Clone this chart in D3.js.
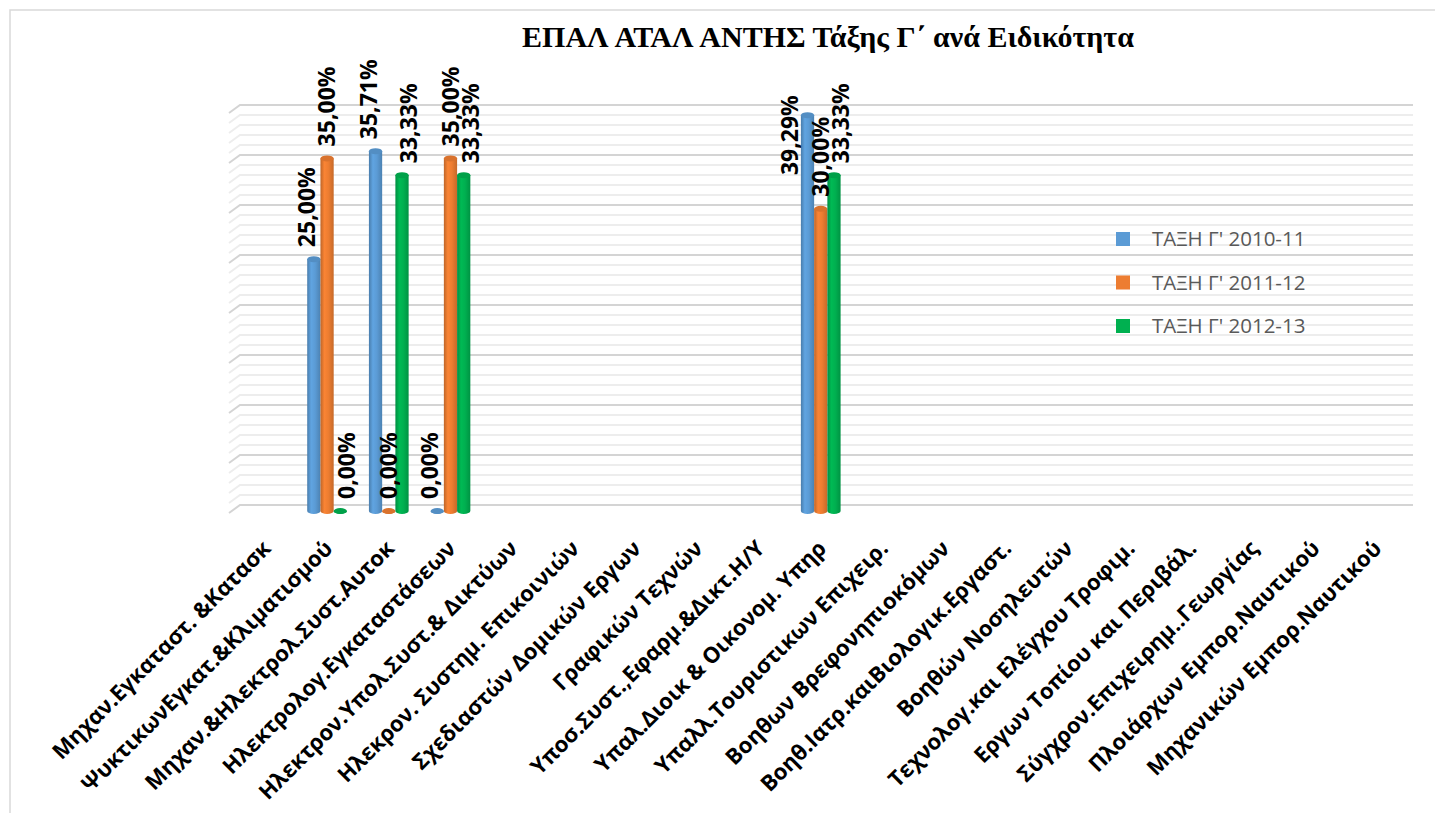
<!DOCTYPE html>
<html>
<head>
<meta charset="utf-8">
<script src="https://cdn.jsdelivr.net/npm/d3@7"></script>
<style>
  html, body { margin: 0; padding: 0; background: #fff; }
  svg { display: block; }
</style>
</head>
<body>
<svg id="chart" width="1435" height="813"></svg>
<script>
// ---------------- data ----------------
const title = "ΕΠΑΛ ΑΤΑΛ ΑΝΤΗΣ Τάξης Γ΄ ανά Ειδικότητα";
const categories = [
  "Μηχαν.Εγκαταστ. &Κατασκ",
  "ΨυκτικωνΕγκατ.&Κλιματισμού",
  "Μηχαν.&Ηλεκτρολ.Συστ.Αυτοκ",
  "Ηλεκτρολογ.Εγκαταστάσεων",
  "Ηλεκτρον.Υπολ.Συστ.& Δικτύων",
  "Ηλεκρον. Συστημ. Επικοινιών",
  "Σχεδιαστών Δομικών Εργων",
  "Γραφικών Τεχνών",
  "Υποσ.Συστ.,Εφαρμ.&Δικτ.Η/Υ",
  "Υπαλ.Διοικ & Οικονομ. Υπηρ",
  "Υπαλλ.Τουριστικων Επιχειρ.",
  "Βοηθων Βρεφονηπιοκόμων",
  "Βοηθ.Ιατρ.καιΒιολογικ.Εργαστ.",
  "Βοηθών Νοσηλευτών",
  "Τεχνολογ.και Ελέγχου Τροφιμ.",
  "Εργων Τοπίου και Περιβάλ.",
  "Σύγχρον.Επιχειρημ..Γεωργίας",
  "Πλοιάρχων Εμπορ.Ναυτικού",
  "Μηχανικών Εμπορ.Ναυτικού"
];
const seriesNames = ["ΤΑΞΗ Γ' 2010-11", "ΤΑΞΗ Γ' 2011-12", "ΤΑΞΗ Γ' 2012-13"];
// percentages; null = no value
const values2010 = [null, 25.00, 35.71, 0.00, null, null, null, null, null, 39.29, null, null, null, null, null, null, null, null, null];
const values2011 = [null, 35.00, 0.00, 35.00, null, null, null, null, null, 30.00, null, null, null, null, null, null, null, null, null];
const values2012 = [null, 0.00, 33.33, 33.33, null, null, null, null, null, 33.33, null, null, null, null, null, null, null, null, null];
const yMax = 40;
const majorStep = 5;
const minorStep = 1;

// ---------------- drawing ----------------
const series = [values2010, values2011, values2012];
const colors = ["#5b9bd5", "#ed7d31", "#00b050"];
const svg = d3.select("#chart");
const defs = svg.append("defs");

// outer chart border
svg.append("rect").attr("x", 10).attr("y", 10).attr("width", 1440).attr("height", 820)
  .attr("fill", "none").attr("stroke", "#d9d9d9").attr("stroke-width", 1.5);

// title
svg.append("text").attr("x", 828).attr("y", 47).attr("text-anchor", "middle")
  .attr("font-family", "'Liberation Serif', 'Times New Roman', serif")
  .attr("font-weight", "bold").attr("font-size", 30).attr("fill", "#000")
  .text(title);

// scales
const x = d3.scaleBand().domain(categories).range([234.5, 1407]).paddingInner(0).paddingOuter(0);
const xs = d3.scaleBand().domain(d3.range(series.length)).range([11, x.bandwidth() - 11]).padding(0);
const yFront = d3.scaleLinear().domain([0, yMax]).range([511, 108]);
const yBack = d3.scaleLinear().domain([0, yMax]).range([505, 105]);
const wallX0 = 240, wallX1 = 1413, sideDx = -11, sideDy = 8;

// gridlines (back wall + side wall)
const minorTicks = d3.range(0, yMax + 0.001, minorStep);
const grid = svg.append("g");
minorTicks.forEach(t => {
  const isMajor = Math.abs(t / majorStep - Math.round(t / majorStep)) < 1e-6;
  const yy = yBack(t);
  const col = isMajor ? "#d4d4d4" : "#ededed";
  grid.append("path")
    .attr("d", `M${wallX0 + sideDx},${yy + sideDy} L${wallX0},${yy} L${wallX1},${yy}`)
    .attr("fill", "none").attr("stroke", col).attr("stroke-width", 2);
});

// cylinder gradients
colors.forEach((c, i) => {
  const g = defs.append("linearGradient").attr("id", "cyl" + i).attr("x1", "0").attr("x2", "1").attr("y1", "0").attr("y2", "0");
  const dark = d3.color(c).darker(0.6), light = d3.color(c).brighter(0.15);
  g.append("stop").attr("offset", "0%").attr("stop-color", dark);
  g.append("stop").attr("offset", "30%").attr("stop-color", light);
  g.append("stop").attr("offset", "60%").attr("stop-color", c);
  g.append("stop").attr("offset", "100%").attr("stop-color", d3.color(c).darker(0.5));
});

const ry = 3;
const bars = svg.append("g");
const labels = svg.append("g");
const labelOffsets = [-7, 0, 7];
const labelFont = 23;
const labelTopLimit = 50;
categories.forEach((cat, ci) => {
  series.forEach((vals, si) => {
    const v = vals[ci];
    if (v === null || v === undefined) return;
    const bx = x(cat) + xs(si), bw = xs.bandwidth();
    const yt = yFront(v), yb = yFront(0);
    const g = bars.append("g");
    g.append("path")
      .attr("d", `M${bx},${yt} L${bx},${yb} A${bw/2},${ry} 0 0 0 ${bx + bw},${yb} L${bx + bw},${yt} Z`)
      .attr("fill", `url(#cyl${si})`);
    g.append("ellipse").attr("cx", bx + bw / 2).attr("cy", yt).attr("rx", bw / 2).attr("ry", ry)
      .attr("fill", d3.color(colors[si]).darker(0.25));
    const txt = v.toFixed(2).replace(".", ",") + "%";
    const t = labels.append("text")
      .attr("font-family", "'Open Sans', sans-serif").attr("font-weight", "bold")
      .attr("font-size", labelFont).attr("fill", "#000").attr("dy", "0.35em")
      .text(txt);
    const len = t.node().getComputedTextLength();
    let lx = bx + bw / 2 + labelOffsets[si];
    let ly = yt - 12;
    let anchor = "start";
    if (ly - len < labelTopLimit) {
      // not enough room above: place beside the bar (left side)
      lx = bx - 11;
      ly = yt + 20;
      anchor = "middle";
    }
    t.attr("text-anchor", anchor).attr("transform", `translate(${lx},${ly}) rotate(-90)`);
  });
});

// category labels
const catG = svg.append("g");
categories.forEach(cat => {
  const cx = x(cat) + x.bandwidth() / 2 - 4;
  catG.append("text")
    .attr("transform", `translate(${cx},${539}) rotate(-45)`)
    .attr("text-anchor", "end").attr("dy", "0.7em")
    .attr("font-family", "'Open Sans', sans-serif").attr("font-weight", "bold")
    .attr("font-size", 22).attr("fill", "#000")
    .text(cat);
});

// legend
const lg = svg.append("g");
seriesNames.forEach((name, i) => {
  const yy = 239 + i * 43.5;
  lg.append("rect").attr("x", 1116).attr("y", yy - 7).attr("width", 14).attr("height", 14).attr("fill", colors[i]);
  lg.append("text").attr("x", 1152).attr("y", yy).attr("dy", "0.35em")
    .attr("font-family", "'Open Sans', sans-serif").attr("font-size", 20.5).attr("fill", "#595959")
    .text(name);
});
</script>
</body>
</html>
